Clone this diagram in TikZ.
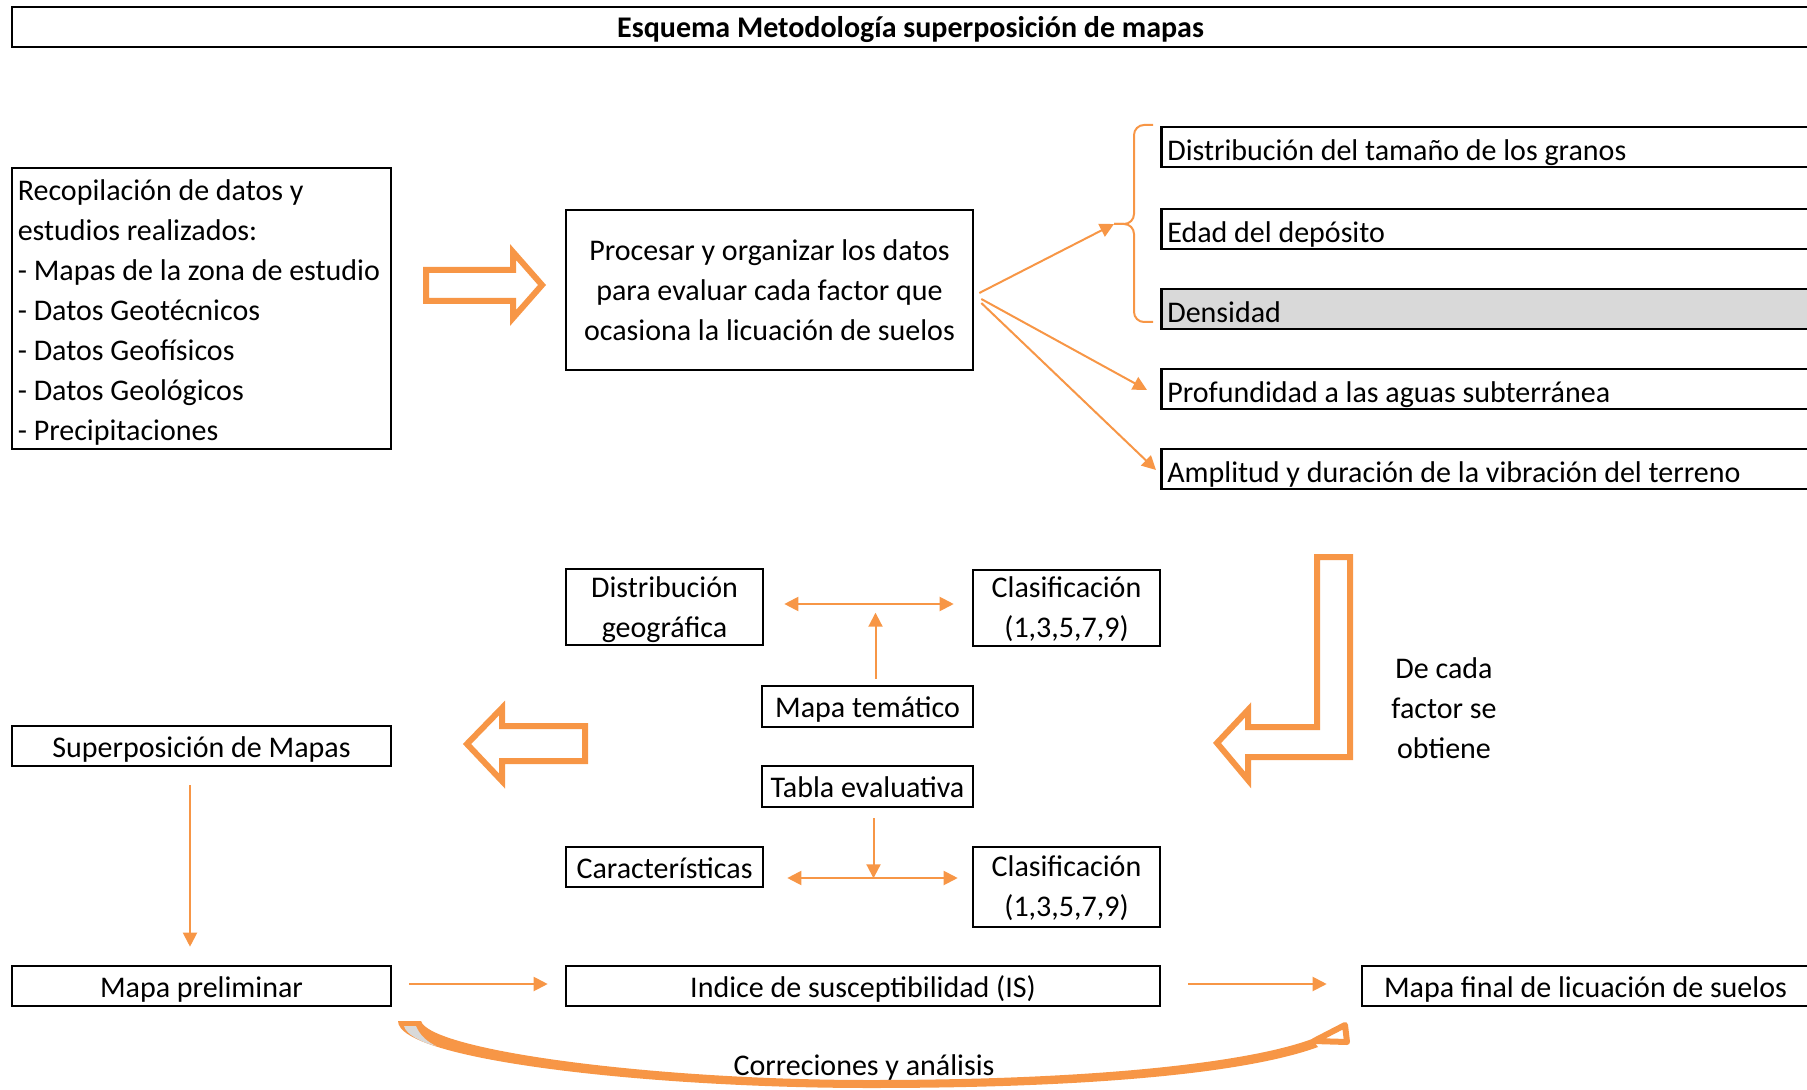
\documentclass[tikz,border=0pt]{standalone}
\usepackage{fontspec}
\setmainfont{Carlito}
\usetikzlibrary{arrows.meta,calc}
\definecolor{orng}{HTML}{F79646}
\definecolor{grayfill}{HTML}{D9D9D9}
\newcommand{\topstrut}[1]{\rule{0pt}{#1}}
\newcommand{\botstrut}[1]{\rule[-#1]{0pt}{#1}}
\begin{document}
\begin{tikzpicture}[x=0.5pt,y=-0.5pt,
  font=\fontsize{15}{20}\selectfont,
  box/.style={draw, line width=1.3pt, inner sep=0pt, align=center},
  sbox/.style={box, text height=14.5pt, text depth=3.5pt, minimum height=20pt},
  lbox/.style={draw, line width=1.3pt, anchor=west, inner xsep=3pt, inner ysep=0pt,
     text width=329pt, align=flush left, minimum height=20pt, text height=16pt, text depth=2.7pt},
  conn/.style={orng, line width=1pt, -{Triangle[length=7pt,width=7pt]}},
  dconn/.style={orng, line width=1pt, {Triangle[length=7pt,width=7pt]}-{Triangle[length=7pt,width=7pt]}},
  blk/.style={draw=orng, line width=3pt, line join=miter, fill=white}]
\useasboundingbox (0,0) rectangle (1807,1090);
\clip (0,0) rectangle (1807,1090);

% title
\node[sbox, minimum width=898.5pt, font=\fontsize{15}{20}\selectfont\bfseries] (title) at (910.5,27) {Esquema Metodología superposición de mapas};

% top row
\node[box, minimum width=189.5pt, minimum height=140.5pt, inner xsep=2.9pt, text width=183.7pt, align=flush left] (rec) at (201.5,308.5)
  {\topstrut{16pt}Recopilación de datos y\\estudios realizados:\\- Mapas de la zona de estudio\\- Datos Geotécnicos\\- Datos Geofísicos\\- Datos Geológicos\\- Precipitaciones\botstrut{3.5pt}};
\draw[blk] (426,270) -- (513,270) -- (513,252) -- (542,285) -- (513,318) -- (513,301) -- (426,301) -- cycle;
\node[box, minimum width=203.5pt, minimum height=80pt] (proc) at (769.5,290)
  {Procesar y organizar los datos\\para evaluar cada factor que\\ocasiona la licuación de suelos};

\node[lbox] (f1) at (1160,147) {Distribución del tamaño de los granos};
\node[lbox] (f2) at (1160,229) {Edad del depósito};
\node[lbox, fill=grayfill] (f3) at (1160,309) {Densidad};
\node[lbox] (f4) at (1160,389) {Profundidad a las aguas subterránea};
\node[lbox] (f5) at (1160,469) {Amplitud y duración de la vibración del terreno};

\coordinate (brk) at (1114,224);
\draw[orng, line width=1pt, rounded corners=5pt] (1153,125) -| (1134,224) -- (brk);
\draw[orng, line width=1pt, rounded corners=5pt] (brk) -- (1134,224) |- (1153,322);
\draw[conn] ($(proc.east)+(5,3)$) -- (brk);
\draw[conn] ($(proc.east)+(7,9)$) -- ($(f4.west)+(-13,1)$);
\draw[conn] ($(proc.east)+(7,13)$) -- ($(f5.west)+(-4,1)$);

% L arrow
\draw[blk] (1317,557) -- (1350,557) -- (1350,757) -- (1248,757) -- (1248,780) -- (1217,743) -- (1248,710) -- (1248,727) -- (1317,727) -- cycle;
\node[align=center] (dc) at (1444,708) {De cada\\factor se\\obtiene};

% middle
\node[box, minimum width=98.5pt, minimum height=38pt] (dg) at (664.5,607) {\topstrut{14pt}Distribución\\geográfica\botstrut{4pt}};
\node[box, minimum width=93.5pt, minimum height=38pt] (cl1) at (1066.5,608) {\topstrut{13.5pt}Clasificación\\(1,3,5,7,9)\botstrut{4pt}};
\node[sbox, minimum width=105.5pt, minimum height=20.5pt] (mt) at (867.5,706.5) {Mapa temático};
\node[sbox, minimum width=105.5pt, minimum height=20.5pt] (te) at (867.5,786.5) {Tabla evaluativa};
\node[sbox, minimum width=98.5pt] (car) at (664.5,867) {Características};
\node[box, minimum width=93.5pt, minimum height=40pt] (cl2) at (1066.5,887) {\topstrut{13.5pt}Clasificación\\(1,3,5,7,9)\botstrut{4pt}};

\draw[dconn] ($(dg.east)+(20,-3)$) -- ($(cl1.west)+(-18,-4)$);
\draw[conn] ($(mt.north)+(8,-6)$) -- ($(mt.north)+(8,-72)$);
\draw[conn] ($(te.south)+(6,10)$) -- ($(te.south)+(6,70)$);
\draw[dconn] ($(car.east)+(23,11)$) -- ($(cl2.west)+(-14,-9)$);

% left
\draw[blk] (467,744) -- (502,708) -- (502,726) -- (585,726) -- (585,761) -- (502,761) -- (502,781) -- cycle;
\node[sbox, minimum width=189.5pt] (sup) at (201.5,746) {Superposición de Mapas};
\node[sbox, minimum width=189.5pt] (mp) at (201.5,986) {Mapa preliminar};
\node[sbox, minimum width=297pt] (is) at (863,986) {Indice de susceptibilidad (IS)};
\node[sbox, minimum width=223.5pt] (mf) at (1585.5,986) {Mapa final de licuación de suelos};

\draw[conn] ($(sup.south)+(-11.5,18)$) -- ($(mp.north)+(-11.5,-18)$);
\draw[conn] ($(mp.east)+(17,-2)$) -- ($(is.west)+(-17,-2)$);
\draw[conn] ($(is.east)+(27,-2)$) -- ($(mf.west)+(-34,-2)$);

% curved arrow (Correciones y análisis)
\fill[orng] (398,1021) .. controls (398,1060) and (650,1088) .. (870,1088)
   .. controls (1100,1088) and (1250,1072) .. (1318,1047)
   -- (1312,1039) .. controls (1250,1062) and (1100,1080) .. (870,1080)
   .. controls (650,1080) and (430,1050) .. (421,1021) -- cycle;
\fill[grayfill] (404,1026) -- (416,1026) .. controls (420,1036) and (428,1042) .. (436,1046)
   .. controls (420,1042) and (406,1034) .. (404,1026) -- cycle;
\draw[orng, line width=3pt, fill=white, line join=round] (1314,1041) -- (1345,1025) -- (1347,1042) -- cycle;
\node (corr) at (864,1067) {Correciones y análisis};
\end{tikzpicture}
\end{document}
